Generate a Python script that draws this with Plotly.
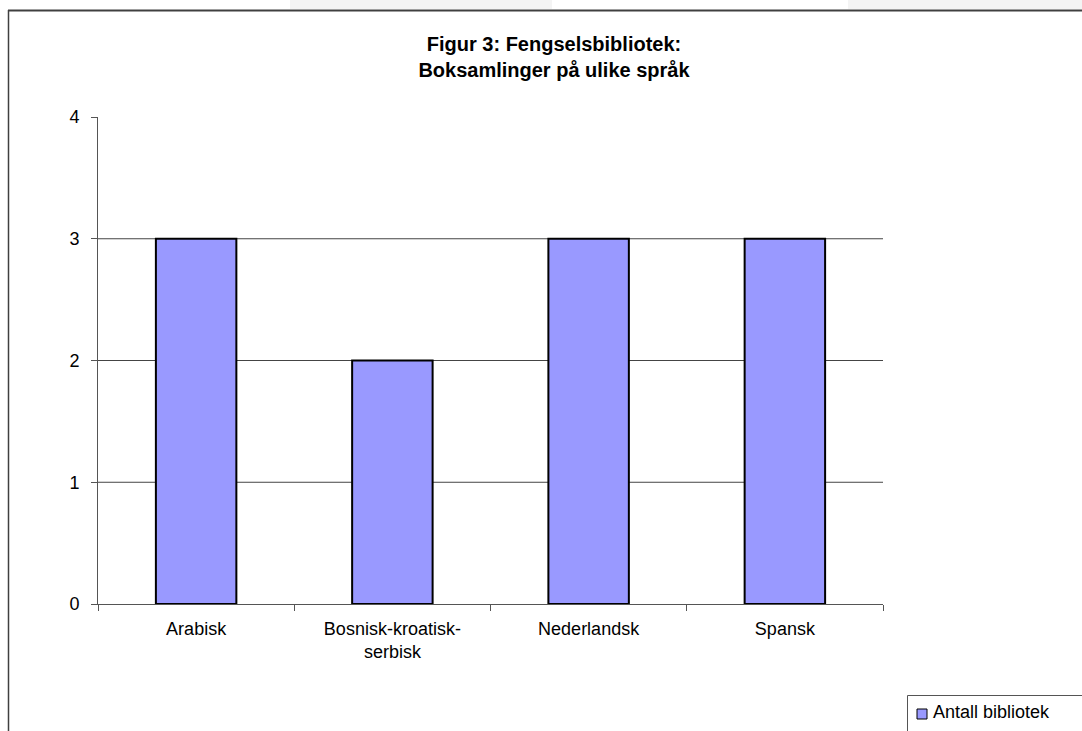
import plotly.graph_objects as go

categories = ["Arabisk", "Bosnisk-kroatisk-<br>serbisk", "Nederlandsk", "Spansk"]
values = [3, 2, 3, 3]
series_name = "Antall bibliotek"
y_ticks = [0, 1, 2, 3, 4]
title_text = "Figur 3: Fengselsbibliotek:<br>Boksamlinger på ulike språk"

W, H = 1082, 731
L, R, T, B = 98, 883, 117, 604  # plot area in pixels

def px(x):
    return (x - L) / (R - L)

def py(y):
    return (B - y) / (B - T)

bar_color = "#9999FF"
font_family = "Liberation Sans, Arial, sans-serif"

fig = go.Figure()
fig.add_trace(go.Bar(
    x=categories, y=values, name=series_name,
    marker=dict(color=bar_color, line=dict(color="black", width=2)),
    showlegend=False,
))

shapes = []
# horizontal gridlines (not at top)
for v in y_ticks[1:-1]:
    shapes.append(dict(type="line", xref="paper", yref="y", x0=0, x1=1, y0=v, y1=v,
                       line=dict(color="#444444", width=1), layer="below"))
# faint bands at top of page
shapes.append(dict(type="rect", xref="paper", yref="paper", x0=px(290), x1=px(552), y0=py(9), y1=py(0),
                   fillcolor="#f4f4f4", line=dict(width=0), layer="below"))
shapes.append(dict(type="rect", xref="paper", yref="paper", x0=px(848), x1=px(1090), y0=py(9), y1=py(0),
                   fillcolor="#f4f4f4", line=dict(width=0), layer="below"))
# chart frame
shapes.append(dict(type="line", xref="paper", yref="paper", x0=px(8), x1=px(1090), y0=py(10.5), y1=py(10.5),
                   line=dict(color="#404040", width=2)))
shapes.append(dict(type="line", xref="paper", yref="paper", x0=px(8.5), x1=px(8.5), y0=py(10), y1=py(740),
                   line=dict(color="#404040", width=1.5)))
# legend box and key
shapes.append(dict(type="rect", xref="paper", yref="paper", x0=px(907.5), x1=px(1100), y0=py(740), y1=py(695.5),
                   fillcolor="white", line=dict(color="#555555", width=1)))
shapes.append(dict(type="rect", xref="paper", yref="paper", x0=px(917), x1=px(927), y0=py(719), y1=py(709),
                   fillcolor=bar_color, line=dict(color="black", width=1)))

annotations = [
    dict(text=series_name, xref="paper", yref="paper", x=px(931), y=py(712), xanchor="left", yanchor="middle",
         showarrow=False, font=dict(family=font_family, size=18, color="black")),
]

fig.update_layout(
    width=W, height=H,
    margin=dict(l=L, r=W - R, t=T, b=H - B, autoexpand=False),
    paper_bgcolor="white", plot_bgcolor="white",
    bargap=0.59,
    title=dict(text=title_text, x=554 / W, xanchor="center", y=1 - 51 / H, yanchor="middle",
               yref="container", font=dict(family=font_family, size=20, color="black", weight="bold")),
    font=dict(family=font_family, size=18, color="black"),
    shapes=shapes,
    annotations=annotations,
    showlegend=False,
)
fig.update_xaxes(
    type="category", tickson="boundaries", ticks="outside", ticklen=6, tickcolor="#555555",
    showline=True, linecolor="#555555", linewidth=1, showgrid=False,
    tickfont=dict(family=font_family, size=18, color="black"), ticklabelstandoff=8,
)
fig.update_yaxes(
    range=[0, 4], tickvals=y_ticks, ticks="outside", ticklen=6, tickcolor="#555555",
    showline=True, linecolor="#555555", linewidth=1, showgrid=False, zeroline=False,
    tickfont=dict(family=font_family, size=18, color="black"), ticklabelstandoff=8,
)

fig.write_html("out.html")
